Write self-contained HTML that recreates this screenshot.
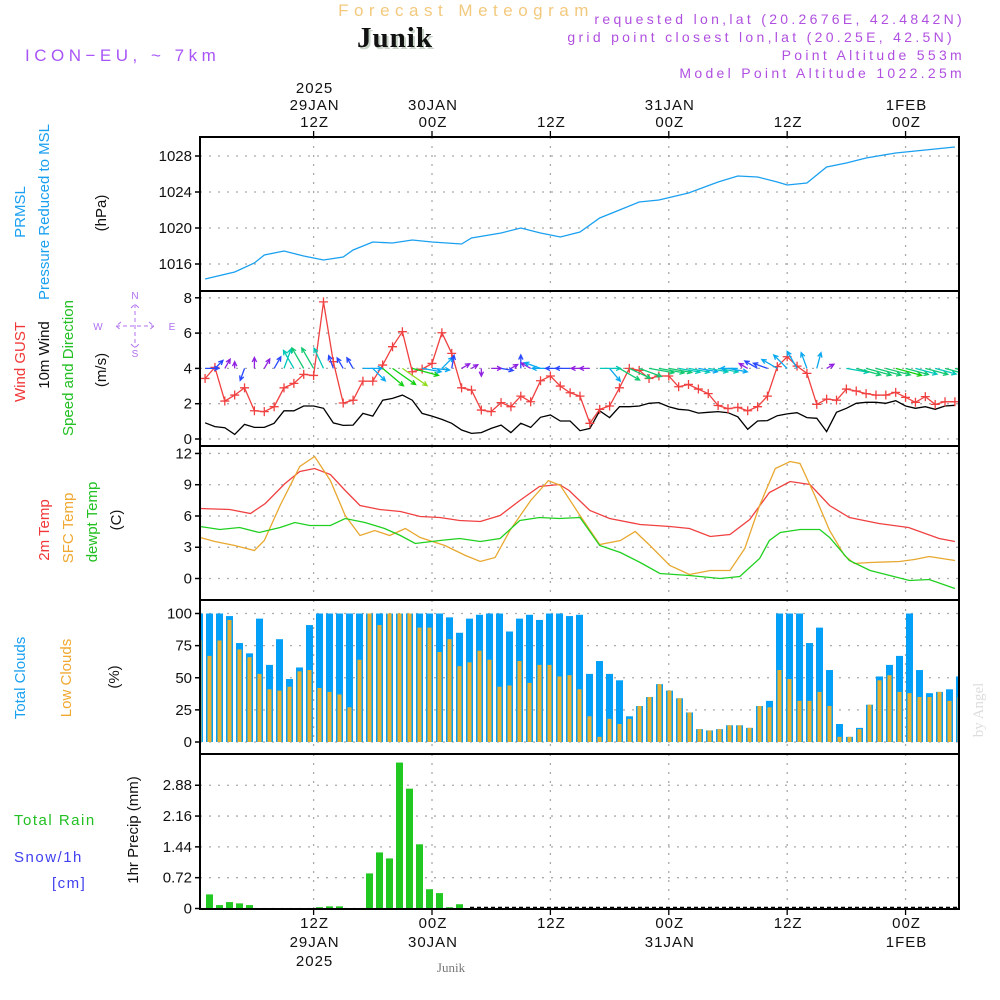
<!DOCTYPE html>
<html><head><meta charset="utf-8">
<style>
html,body{margin:0;padding:0;background:#fff;}
svg{display:block;font-family:"Liberation Sans","DejaVu Sans",sans-serif;}
</style></head>
<body>
<svg id="chart" width="1000" height="1000" viewBox="0 0 1000 1000" xmlns="http://www.w3.org/2000/svg">
<g>
<text x="466" y="16" text-anchor="middle" font-size="17" fill="#f3c97e" letter-spacing="5.5">Forecast Meteogram</text>
<text x="397" y="49" text-anchor="middle" font-family="Liberation Serif,serif" font-weight="bold" font-size="29" letter-spacing="1" fill="#c8d4c8">Junik</text>
<text x="395" y="47" text-anchor="middle" font-family="Liberation Serif,serif" font-weight="bold" font-size="29" letter-spacing="1" fill="#111">Junik</text>
<text x="965" y="24" text-anchor="end" font-size="14" fill="#b050e0" letter-spacing="3.3">requested lon,lat (20.2676E, 42.4842N)</text>
<text x="955" y="42" text-anchor="end" font-size="14" fill="#b050e0" letter-spacing="3.3">grid point closest lon,lat (20.25E, 42.5N)</text>
<text x="965" y="60" text-anchor="end" font-size="14" fill="#b050e0" letter-spacing="3.3">Point Altitude 553m</text>
<text x="965" y="78" text-anchor="end" font-size="14" fill="#b050e0" letter-spacing="3.3">Model Point Altitude 1022.25m</text>
<text x="25" y="61" font-size="17" fill="#a855f7" letter-spacing="4.5">ICON−EU, ~ 7km</text>
</g>
<g id="left-labels" font-size="15">
<text transform="translate(25,212) rotate(-90)" text-anchor="middle" fill="#1aa0f0">PRMSL</text>
<text transform="translate(49,212) rotate(-90)" text-anchor="middle" fill="#1aa0f0">Pressure Reduced to MSL</text>
<text transform="translate(106,213) rotate(-90)" text-anchor="middle" fill="#111">(hPa)</text>
<text transform="translate(25,362) rotate(-90)" text-anchor="middle" fill="#f03838">Wind GUST</text>
<text transform="translate(49,355) rotate(-90)" text-anchor="middle" fill="#111">10m Wind</text>
<text transform="translate(73,368) rotate(-90)" text-anchor="middle" fill="#22c022">Speed and Direction</text>
<text transform="translate(106,370) rotate(-90)" text-anchor="middle" fill="#111">(m/s)</text>
<text transform="translate(49,530) rotate(-90)" text-anchor="middle" fill="#f03838">2m Temp</text>
<text transform="translate(73,528) rotate(-90)" text-anchor="middle" fill="#f0a830">SFC Temp</text>
<text transform="translate(97,522) rotate(-90)" text-anchor="middle" fill="#22c022">dewpt Temp</text>
<text transform="translate(121,520) rotate(-90)" text-anchor="middle" fill="#111">(C)</text>
<text transform="translate(25,678) rotate(-90)" text-anchor="middle" fill="#1aa0f0">Total Clouds</text>
<text transform="translate(71,678) rotate(-90)" text-anchor="middle" fill="#f0a830">Low Clouds</text>
<text transform="translate(119,677) rotate(-90)" text-anchor="middle" fill="#111">(%)</text>
<text transform="translate(138,830) rotate(-90)" text-anchor="middle" fill="#111">1hr Precip (mm)</text>
<text x="14" y="825" fill="#22c022" letter-spacing="1.5">Total  Rain</text>
<text x="14" y="862" fill="#4040f0" letter-spacing="1.5">Snow/1h</text>
<text x="52" y="888" fill="#4040f0" letter-spacing="1.5">[cm]</text>
</g>
<g fill="#b070f0" font-size="10" stroke="none">
<text x="135" y="299" text-anchor="middle">N</text>
<text x="135" y="357" text-anchor="middle">S</text>
<text x="98" y="330" text-anchor="middle">W</text>
<text x="172" y="330" text-anchor="middle">E</text>
<path d="M116 326 H154 M135 304 V348 M121 322 L116 326 L121 330 M149 322 L154 326 L149 330 M131 308 L135 304 L139 308 M131 344 L135 348 L139 344" stroke="#b070f0" stroke-width="1" stroke-dasharray="4 3" fill="none"/>
</g>
<text transform="translate(983,710) rotate(-90)" text-anchor="middle" font-family="Liberation Serif,serif" font-size="15" fill="#dddddd">by Angel</text>
<text x="451" y="972" text-anchor="middle" font-family="Liberation Serif,serif" font-size="13" fill="#777">Junik</text>
<g id="plots"></g>
</svg>
<script>
// ---- data ----
const hours = [];
for (let h = -23; h <= 53; h++) hours.push(h);
const tickTimes = [-12, 0, 12, 24, 36, 48];
const topLabels = [["2025","29JAN","12Z"],["","30JAN","00Z"],["","","12Z"],["","31JAN","00Z"],["","","12Z"],["","1FEB","00Z"]];
const bottomLabels = [["12Z","29JAN","2025"],["00Z","30JAN",""],["12Z","",""],["00Z","31JAN",""],["12Z","",""],["00Z","1FEB",""]];

const pressTimes = [-23,-20,-18,-17,-15,-13,-11,-9,-8,-6,-4,-2,0,3,4,7,9,11,13,15,17,19,21,23,26,29,31,33,35,36,38,40,42,44,47,50,53];
const pressVals = [1014.33,1015.11,1016.11,1017.0,1017.44,1016.89,1016.44,1016.78,1017.56,1018.44,1018.33,1018.67,1018.44,1018.22,1018.89,1019.44,1020.0,1019.44,1019.0,1019.56,1021.11,1022.0,1022.89,1023.11,1023.89,1025.11,1025.78,1025.67,1025.11,1024.78,1025.0,1026.78,1027.22,1027.78,1028.33,1028.67,1029.0];
const pressTicks = [1016,1020,1024,1028];

const gustVals = [3.43,4.06,2.15,2.49,2.9,1.6,1.55,1.83,2.9,3.15,3.66,3.6,7.77,4.38,2.04,2.2,3.28,3.28,4.19,5.23,6.08,3.81,3.96,4.28,6.02,4.85,2.9,2.77,1.64,1.55,2.06,1.83,2.43,2.11,3.3,3.57,3.0,2.62,2.43,0.89,1.68,1.87,2.9,4.0,3.89,3.43,3.57,3.57,2.96,3.09,2.83,2.57,1.9,1.72,1.79,1.6,1.83,2.43,4.1,4.66,4.13,3.72,1.96,2.26,2.2,2.83,2.72,2.57,2.49,2.49,2.64,2.36,2.08,2.4,1.96,2.11,2.11];
const windVals = [0.92,0.7,0.64,0.26,0.83,0.66,0.66,0.89,1.6,1.6,1.87,1.87,1.74,0.91,0.77,0.79,1.45,1.3,2.2,2.3,2.49,2.2,1.45,1.3,1.11,0.89,0.51,0.32,0.36,0.6,0.79,0.36,0.89,0.66,1.23,1.36,1.02,1.02,0.47,0.6,1.6,1.21,1.83,1.83,1.87,2.02,2.06,1.83,1.68,1.64,1.47,1.51,1.55,1.49,1.26,0.55,1.02,1.04,1.32,1.42,1.49,1.21,1.17,0.42,1.51,1.74,2.02,2.08,2.08,2.02,2.17,1.87,1.74,1.83,1.68,1.87,1.91];
const windDir = [90,45,30,0,200,0,30,30,20,330,330,330,335,340,330,330,90,135,130,125,125,105,100,95,45,10,60,60,180,90,100,60,0,300,290,270,270,270,270,270,90,140,120,115,110,100,100,100,100,100,100,100,100,100,270,300,300,290,300,315,330,340,15,60,null,100,105,105,105,105,105,105,105,105,105,105,105];
const windTicks = [0,2,4,6,8];

const t2mTimes = [-23.5,-20.5,-18.4,-16.9,-14.9,-13.4,-11.9,-10.3,-8.8,-7.3,-5.3,-3.2,-1.2,0.8,2.8,4.9,6.9,8.9,10.9,12.9,13.9,16,18,21.1,24.1,26.1,28.2,30.2,32.2,34.2,36.3,38.3,40.3,42.3,45.3,48.3,51.4,53];
const t2mVals = [6.72,6.62,6.24,7.2,9.12,10.27,10.56,9.98,8.45,7.01,6.62,6.43,5.95,5.85,5.57,5.47,6.05,7.49,8.83,9.02,8.45,6.53,5.76,5.18,4.99,4.8,4.03,4.22,5.66,8.25,9.31,9.02,7.01,5.85,5.28,4.89,3.84,3.55];
const sfcTimes = [-23.5,-22.0,-20.0,-18.0,-17.0,-15.4,-13.4,-11.9,-10.3,-8.8,-7.3,-5.8,-4.3,-2.7,-1.2,1.3,3.4,4.9,6.4,7.9,10.0,11.8,13.0,15.0,17.0,19.1,20.6,22.1,24.1,26.1,28.2,30.2,31.7,33.2,34.8,36.3,37.3,38.8,40.3,41.8,42.8,44.4,47.4,48.9,50.4,53.0];
const sfcVals = [3.93,3.55,3.17,2.69,3.65,7.01,10.75,11.71,9.4,6.05,4.13,4.61,4.13,4.8,3.93,3.17,2.21,1.63,2.02,4.61,7.49,9.4,8.93,6.05,3.26,3.65,4.51,3.17,1.25,0.38,0.77,0.77,2.88,7.01,10.56,11.23,11.04,7.97,4.61,2.21,1.44,1.54,1.63,1.82,2.11,1.73];
const dewTimes = [-23.5,-21.5,-19.5,-17.5,-15.4,-13.9,-12.4,-10.3,-8.8,-6.8,-4.8,-3.2,-1.7,0.8,2.8,4.9,6.9,8.9,10.9,12.9,15.0,17.0,19.1,21.1,23.1,26.1,29.2,31.2,33.2,34.2,35.3,37.3,39.3,40.3,42.3,44.4,46.4,48.4,50.4,53.0];
const dewVals = [4.99,4.7,4.89,4.41,4.89,5.37,5.09,5.09,5.76,5.37,4.8,4.13,3.36,3.65,3.84,3.55,3.84,5.57,5.85,5.76,5.85,3.17,2.5,1.54,0.48,0.29,0.0,0.19,1.92,3.65,4.41,4.7,4.7,3.93,1.73,0.77,0.29,-0.19,-0.1,-0.96];
const tempTicks = [0,3,6,9,12];

const totalClouds = [100,100,100,98,77,69,96,60,80,49,58,91,100,100,100,100,100,100,100,100,100,100,100,100,100,97,85,96,99,100,100,86,96,99,95,100,100,98,99,53,63,53,48,20,28,35,45,40,34,23,10,9,10,13,13,11,28,32,100,100,100,77,89,56,14,4,11,29,51,60,67,100,56,38,39,41,51];
const lowClouds = [79,67,79,95,72,66,53,41,40,43,55,56,42,39,37,27,64,100,91,100,100,100,89,89,70,80,59,62,71,64,43,44,63,46,60,60,51,52,41,20,4,18,14,18,28,35,45,40,34,23,10,9,10,13,13,11,28,27,56,49,32,32,39,28,4,4,10,29,48,52,39,38,35,35,39,32,35];
const cloudTicks = [0,25,50,75,100];

const precipVals = [0,0.33,0.08,0.15,0.12,0.08,0.01,0,0,0,0,0,0.03,0.05,0.05,0,0,0.82,1.31,1.17,3.41,2.80,1.50,0.45,0.36,0.03,0.1,0,0,0,0,0,0,0,0,0,0,0,0,0,0,0,0,0,0,0,0,0,0,0,0,0,0,0,0,0,0,0,0,0,0,0,0,0,0,0,0,0,0,0,0,0,0,0,0,0,0];
const precipTicks = [0,0.72,1.44,2.16,2.88];
const precipTickLabels = ["0","0.72","1.44","2.16","2.88"];

// ---- scales ----
const X0 = 200, X1 = 959;
const xLine = t => 432 + 9.866 * t;
const xBar = t => 429.5 + 10 * t;
const yPress = v => 264 - (v - 1016) * 9;
const yWind = v => 439 - v * 17.65;
const yTemp = v => 578.5 - v * 10.42;
const yCloud = v => 742 - v * 1.285;
const yPrecip = v => 908.5 - v * 42.8;
const panels = [[137,291],[291,446],[446,600],[600,754],[754,909]];

const NS = "http://www.w3.org/2000/svg";
const root = document.getElementById('plots');
function mk(tag, attrs, parent) {
  const e = document.createElementNS(NS, tag);
  for (const k in attrs) e.setAttribute(k, attrs[k]);
  (parent || root).appendChild(e);
  return e;
}
const defs = mk('defs', {});
const cp = mk('clipPath', {id: 'plotclip'}, defs);
mk('rect', {x: X0, y: 137, width: X1 - X0, height: 772}, cp);

// gridlines
const grid = mk('g', {stroke: '#aaaaaa', 'stroke-width': 1.3, 'stroke-dasharray': '2 7', fill: 'none'});


for (const t of tickTimes) {
  for (const p of panels) mk('line', {x1: xLine(t), x2: xLine(t), y1: p[0], y2: p[1]}, grid);
}
function hgrid(ticks, ys, fmt, name) {
  const g = mk('g', {});
  
  
  ticks.forEach((v, i) => {
    const y = ys(v);
    mk('line', {x1: X0, x2: X1, y1: y, y2: y, stroke: '#aaaaaa', 'stroke-width': 1.3, 'stroke-dasharray': '2 7'}, g);
    mk('line', {x1: X0 - 5, x2: X0, y1: y, y2: y, stroke: '#000', 'stroke-width': 1.5}, g);
    const tx = mk('text', {x: 192, y: y + 5, 'text-anchor': 'end', 'font-size': 15, fill: '#111'}, g);
    tx.textContent = fmt(v, i);
  });
}
hgrid(pressTicks, yPress, v => v, 'pressure-y-axis');
hgrid(windTicks, yWind, v => v, 'wind-y-axis');
hgrid(tempTicks, yTemp, v => v, 'temp-y-axis');
hgrid(cloudTicks, yCloud, v => v, 'clouds-y-axis');
hgrid(precipTicks, yPrecip, (v, i) => precipTickLabels[i], 'precip-y-axis');

const plot = mk('g', {'clip-path': 'url(#plotclip)'});



function polyline(ts, vs, xs, ys, color, name, w) {
  const pts = ts.map((t, i) => xs(t).toFixed(1) + ',' + ys(vs[i]).toFixed(1)).join(' ');
  const pl = mk('polyline', {points: pts, fill: 'none', stroke: color, 'stroke-width': w || 1.3}, plot);
  
  
  return pl;
}
// pressure
polyline(pressTimes, pressVals, xLine, yPress, '#1aa0f0', 'pressure-line');

// clouds
const cg = mk('g', {}, plot);


hours.forEach((t, i) => {
  const xc = xBar(t);
  const b = mk('rect', {x: xc - 3.5, y: yCloud(totalClouds[i]), width: 7, height: yCloud(0) - yCloud(totalClouds[i]), fill: '#04a0f8'}, cg);
  
  
  const o = mk('rect', {x: xc - 2, y: yCloud(lowClouds[i]), width: 4, height: yCloud(0) - yCloud(lowClouds[i]), fill: '#e8b030'}, cg);
  
  
});

// precip
const pg = mk('g', {}, plot);


hours.forEach((t, i) => {
  const v = precipVals[i];
  if (v <= 0) return;
  const b = mk('rect', {x: xBar(t) - 3.5, y: yPrecip(v), width: 7, height: yPrecip(0) - yPrecip(v), fill: '#22c822'}, pg);
  
  
});
const base = mk('line', {x1: 470, x2: X1, y1: 907.5, y2: 907.5, stroke: '#000', 'stroke-width': 1.5, 'stroke-dasharray': '4 3'}, plot);



// temperatures
polyline(t2mTimes, t2mVals, xLine, yTemp, '#f04040', 'temp-2m-line');
polyline(sfcTimes, sfcVals, xLine, yTemp, '#e8a830', 'sfc-temp-line');
polyline(dewTimes, dewVals, xLine, yTemp, '#20d020', 'dewpt-temp-line');

// wind
polyline(hours, windVals, xLine, yWind, '#000', 'wind-10m-line');
polyline(hours, gustVals, xLine, yWind, '#f04040', 'wind-gust-line');
const gm = mk('g', {stroke: '#f04040', 'stroke-width': 1.3}, plot);


hours.forEach((t, i) => {
  const x = xLine(t), y = yWind(gustVals[i]);
  const p = mk('path', {d: `M${x-4.5} ${y}H${x+4.5}M${x} ${y-4.5}V${y+4.5}`}, gm);
  
  
});
function windColor(s) {
  if (s < 0.7) return '#9020e0';
  if (s < 1.1) return '#2848ff';
  if (s < 1.5) return '#08a8f0';
  if (s < 1.8) return '#00c8b8';
  if (s < 2.1) return '#10c870';
  if (s < 2.35) return '#10d010';
  return '#90dc20';
}
const wa = mk('g', {fill: 'none', 'stroke-width': 1.3}, plot);


hours.forEach((t, i) => {
  const d = windDir[i];
  if (d === null) return;
  const s = windVals[i];
  const len = 4 + 10.5 * s;
  const a = d * Math.PI / 180;
  const x0 = xLine(t), y0 = yWind(4);
  const x1 = x0 + len * Math.sin(a), y1 = y0 - len * Math.cos(a);
  const hl = 5, ha = 0.45;
  const bx = -Math.sin(a), by = Math.cos(a);
  const h1x = x1 + hl * (bx * Math.cos(ha) - by * Math.sin(ha)), h1y = y1 + hl * (bx * Math.sin(ha) + by * Math.cos(ha));
  const h2x = x1 + hl * (bx * Math.cos(-ha) - by * Math.sin(-ha)), h2y = y1 + hl * (bx * Math.sin(-ha) + by * Math.cos(-ha));
  const p = mk('path', {d: `M${x0} ${y0}L${x1} ${y1}M${h1x} ${h1y}L${x1} ${y1}L${h2x} ${h2y}`, stroke: windColor(s)}, wa);
  
  
});

// frames
const fr = mk('g', {fill: 'none', stroke: '#000', 'stroke-width': 2});


for (const p of panels) mk('rect', {x: X0, y: p[0], width: X1 - X0, height: p[1] - p[0]}, fr);

// time axes
const ax = mk('g', {'font-size': 15, fill: '#111', 'text-anchor': 'middle', 'letter-spacing': 1});


tickTimes.forEach((t, i) => {
  const x = xLine(t) + 1;
  mk('line', {x1: x - 1, x2: x - 1, y1: 131, y2: 137, stroke: '#000', 'stroke-width': 1.3}, ax);
  mk('line', {x1: x - 1, x2: x - 1, y1: 909, y2: 915, stroke: '#000', 'stroke-width': 1.3}, ax);
  topLabels[i].forEach((s, j) => {
    if (!s) return;
    const tx = mk('text', {x: x, y: 93 + j * 17}, ax);
    tx.textContent = s;
  });
  bottomLabels[i].forEach((s, j) => {
    if (!s) return;
    const tx = mk('text', {x: x, y: 928 + j * 19}, ax);
    tx.textContent = s;
  });
});
</script>
</body></html>
